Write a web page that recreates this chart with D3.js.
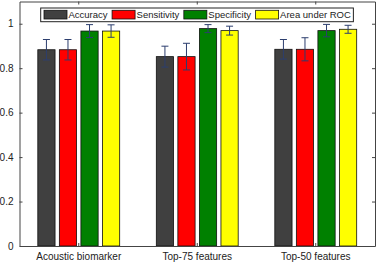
<!DOCTYPE html>
<html lang="en">
<head>
    <meta charset="UTF-8">
    <title>Bar chart with error bars</title>
    <style>
        body { margin: 0; background: #fff; }
        svg { display: block; font-family: "Liberation Sans", Arial, sans-serif; }
    </style>
</head>
<body>
    <div id="chart"></div>
    <script src="https://d3js.org/d3.v7.min.js"></script>
    <script>
        // data
        const categories = ['Acoustic biomarker', 'Top-75 features', 'Top-50 features'];
        const seriesNames = ['Accuracy', 'Sensitivity', 'Specificity', 'Area under ROC'];
        const accuracy = [0.883, 0.852, 0.885];
        const accuracyErr = [0.046, 0.047, 0.044];
        const sensitivity = [0.883, 0.852, 0.885];
        const sensitivityErr = [0.046, 0.060, 0.052];
        const specificity = [0.967, 0.978, 0.969];
        const specificityErr = [0.029, 0.018, 0.028];
        const auc = [0.967, 0.969, 0.975];
        const aucErr = [0.028, 0.020, 0.018];
        const yTicks = [0, 0.2, 0.4, 0.6, 0.8, 1];

        const colors = ['#404040', '#ff0000', '#008000', '#ffff00'];
        const values = [accuracy, sensitivity, specificity, auc];
        const errors = [accuracyErr, sensitivityErr, specificityErr, aucErr];

        const width = 378;
        const height = 264;
        const mLeft = 19.5, mRight = 375, mTop = 1.5, mBottom = 246;

        const svg = d3.select('#chart')
            .append('svg')
            .attr('width', width)
            .attr('height', height);

        const x0 = d3.scaleBand()
            .domain(categories)
            .range([mLeft, mRight])
            .padding(0);

        // matlab style grouped bars: group width ~0.727, bar width 0.8 of slot
        const x1 = d3.scaleBand()
            .domain(seriesNames)
            .range([0, x0.bandwidth()])
            .paddingInner(0.2)
            .paddingOuter(0.85);

        const y = d3.scaleLinear()
            .domain([0, 1.1])
            .range([mBottom, mTop]);

        // bars
        const rows = [];
        categories.forEach((c, i) => {
            seriesNames.forEach((s, j) => {
                rows.push({ cat: c, name: s, v: values[j][i], e: errors[j][i], color: colors[j] });
            });
        });

        svg.append('g').selectAll('rect').data(rows)
            .enter().append('rect')
            .attr('x', d => x0(d.cat) + x1(d.name))
            .attr('y', d => y(d.v))
            .attr('width', x1.bandwidth())
            .attr('height', d => y(0) - y(d.v))
            .attr('fill', d => d.color)
            .attr('stroke', '#111')
            .attr('stroke-width', 0.8);

        // error bars
        const eb = svg.append('g')
            .attr('stroke', '#2c3e6e')
            .attr('stroke-width', 1);
        const cx = d => x0(d.cat) + x1(d.name) + x1.bandwidth() / 2;
        eb.selectAll('.v').data(rows).enter().append('line')
            .attr('x1', cx).attr('x2', cx)
            .attr('y1', d => y(d.v - d.e))
            .attr('y2', d => y(d.v + d.e));
        eb.selectAll('.t').data(rows).enter().append('line')
            .attr('x1', d => cx(d) - 3.5).attr('x2', d => cx(d) + 3.5)
            .attr('y1', d => y(d.v + d.e)).attr('y2', d => y(d.v + d.e));
        eb.selectAll('.b').data(rows).enter().append('line')
            .attr('x1', d => cx(d) - 3.5).attr('x2', d => cx(d) + 3.5)
            .attr('y1', d => y(d.v - d.e)).attr('y2', d => y(d.v - d.e));

        // axes, ticks pointing inward
        const axisColor = '#444';
        const fmt = d => d === 0 ? '0' : d === 1 ? '1' : d3.format('.1f')(d);

        const gy = svg.append('g')
            .attr('transform', `translate(${mLeft},0)`)
            .call(d3.axisLeft(y).tickValues(yTicks).tickFormat(fmt).tickSizeInner(-3).tickSizeOuter(0).tickPadding(6));
        const gyr = svg.append('g')
            .attr('transform', `translate(${mRight},0)`)
            .call(d3.axisRight(y).tickValues(yTicks).tickFormat('').tickSizeInner(-3).tickSizeOuter(0));
        const gx = svg.append('g')
            .attr('transform', `translate(0,${mBottom})`)
            .call(d3.axisBottom(x0).tickSizeInner(-3).tickSizeOuter(0).tickPadding(7));
        const gxt = svg.append('g')
            .attr('transform', `translate(0,${mTop})`)
            .call(d3.axisTop(x0).tickFormat('').tickSizeInner(-3).tickSizeOuter(0));

        [gy, gyr, gx, gxt].forEach(g => {
            g.selectAll('path, line').attr('stroke', axisColor);
            g.selectAll('text')
                .attr('fill', '#222')
                .style('font-size', '10px')
                .style('font-family', '"Liberation Sans", Arial, sans-serif');
        });

        // legend
        const legend = svg.append('g');
        const lgBox = legend.append('rect')
            .attr('x', 40.7).attr('y', 8)
            .attr('height', 13.7)
            .attr('fill', '#fff')
            .attr('stroke', '#222')
            .attr('stroke-width', 1);
        let lx = 44;
        seriesNames.forEach((s, j) => {
            legend.append('rect')
                .attr('x', lx).attr('y', 10.3)
                .attr('width', 23).attr('height', 8.7)
                .attr('fill', colors[j])
                .attr('stroke', '#111')
                .attr('stroke-width', 0.8);
            const t = legend.append('text')
                .attr('x', lx + 24.5).attr('y', 18.4)
                .style('font-size', '9.5px')
                .attr('fill', '#222')
                .text(s);
            lx = lx + 24.5 + t.node().getComputedTextLength() + 4.5;
        });
        lgBox.attr('width', lx - 40.7 - 2);
    </script>
</body>
</html>
